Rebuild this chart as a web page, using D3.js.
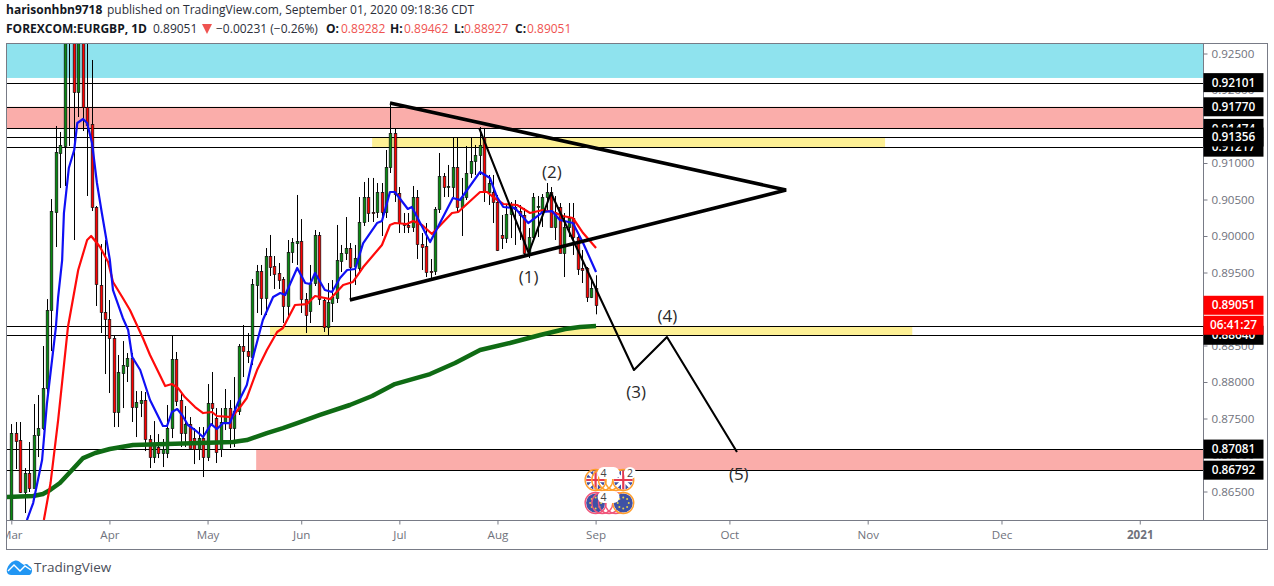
<!DOCTYPE html>
<html><head><meta charset="utf-8">
<script src="https://cdn.jsdelivr.net/npm/d3@7/dist/d3.min.js"></script>
<style>html,body{margin:0;padding:0;background:#fff;overflow:hidden}svg{display:block}text{font-family:"Open Sans",sans-serif}</style>
</head><body><svg id="c" width="1274" height="586"></svg>
<script>
// EUR/GBP daily bars, one entry per trading day from 2 March 2020
const open=[.85972,.87301,.87205,.86493,.86753,.86547,.87273,.87369,.87917,.88986,.90329,.91137,.91233,.92822,.92822,.91973,.92959,.91767,.91534,.90397,.89329,.88959,.88863,.88603,.87589,.88123,.88219,.88329,.87657,.87712,.87753,.87219,.86972,.87109,.87027,.87027,.87369,.88315,.87753,.87301,.87424,.87232,.87082,.87232,.86972,.87712,.87506,.87082,.87452,.87643,.87369,.87602,.88493,.88424,.88342,.89329,.89520,.89150,.89726,.89589,.89493,.89411,.89041,.89781,.89904,.89931,.89136,.88972,.89356,.90014,.89123,.88753,.89082,.89150,.89657,.89767,.89835,.89589,.89561,.90192,.90534,.90329,.90329,.90603,.90329,.90945,.91411,.90589,.90178,.90151,.90123,.90534,.89890,.89863,.89520,.89520,.90370,.90822,.90671,.90671,.90945,.90397,.90534,.90863,.91027,.91110,.91356,.90603,.90603,.90466,.90014,.89972,.90301,.90397,.90342,.90288,.89767,.89986,.90397,.90329,.90534,.90603,.90123,.90397,.89767,.90123,.90247,.89986,.89561,.89561,.89164,.89282];
const high=[.87424,.87452,.87452,.86821,.87178,.87698,.87822,.88493,.89136,.90507,.91507,.91425,.93165,.93233,.93165,.93165,.93165,.92822,.92411,.90411,.89890,.89945,.89123,.88630,.88370,.88561,.88397,.88397,.87876,.87876,.87863,.87273,.87465,.87287,.87219,.87685,.88630,.88411,.87863,.87671,.87520,.87369,.87383,.87383,.87972,.88137,.87643,.87643,.87904,.87753,.88068,.88520,.88781,.88671,.89411,.89603,.89603,.89835,.90014,.89726,.89630,.89438,.89945,.89972,.90562,.90232,.89219,.89603,.90082,.90055,.89150,.89356,.89397,.90151,.89877,.90260,.89904,.89877,.90534,.90740,.90795,.90795,.90726,.90726,.91178,.91795,.91466,.90671,.90315,.90315,.90685,.90630,.90041,.90178,.89685,.90397,.91137,.90863,.90973,.91356,.91356,.90795,.91233,.91356,.91247,.91493,.91480,.90836,.90836,.90562,.90288,.90425,.90466,.90493,.90425,.90384,.90109,.90589,.90548,.90575,.90726,.90671,.90548,.90452,.90315,.90452,.90452,.90041,.89808,.89575,.89425,.89462];
const low=[.85767,.86808,.86479,.86205,.86493,.86547,.86972,.87342,.87753,.88424,.89849,.90657,.90685,.91233,.89945,.91630,.91438,.90548,.90342,.89041,.88671,.88109,.87849,.87383,.87383,.87643,.88000,.87452,.87246,.87520,.87054,.86821,.86890,.86958,.86835,.86958,.87232,.87671,.87109,.87109,.87095,.86876,.86931,.86698,.86917,.87411,.86890,.86972,.87342,.87095,.87109,.87548,.88068,.88260,.88233,.88945,.88917,.88917,.89452,.89274,.89274,.88808,.88890,.89630,.89603,.88945,.88671,.88808,.89315,.89055,.88685,.88644,.88822,.89082,.89507,.89671,.89123,.89329,.89493,.90137,.90192,.90192,.90247,.90000,.90247,.90863,.90466,.90041,.90041,.90041,.90055,.89685,.89534,.89438,.89425,.89466,.90315,.90534,.90534,.90534,.90315,.90000,.90493,.90795,.90836,.90836,.90466,.90425,.90178,.89794,.89822,.89904,.89972,.89877,.89945,.89740,.89698,.89945,.89986,.90123,.90329,.90123,.89945,.89767,.89438,.89986,.89740,.89466,.89356,.89096,.89150,.88927];
const close=[.87301,.87191,.86493,.86753,.86547,.87273,.87369,.87917,.88986,.90342,.91151,.91247,.92959,.93096,.91973,.92959,.91767,.91521,.90397,.89342,.88959,.88863,.88603,.87589,.88137,.88233,.88329,.87657,.87726,.87753,.87219,.86972,.87164,.87027,.87082,.87369,.88315,.87739,.87301,.87424,.87095,.87082,.87232,.86972,.87712,.87643,.87041,.87452,.87643,.87369,.87602,.88493,.88424,.88356,.89342,.89520,.89150,.89726,.89575,.89479,.89397,.89041,.89781,.89918,.89931,.89136,.88917,.89356,.90014,.89136,.88753,.89096,.89164,.89671,.89767,.89835,.89575,.89698,.90192,.90534,.90315,.90315,.90603,.90329,.90945,.91411,.90575,.90178,.90151,.90123,.90534,.89890,.89849,.89507,.89507,.90370,.90822,.90671,.90685,.90945,.90397,.90534,.90863,.91027,.91110,.91247,.90603,.90726,.90466,.89808,.89972,.90301,.90425,.90370,.90288,.89767,.89986,.90534,.90411,.90534,.90603,.90123,.90329,.89767,.90123,.90247,.89986,.89548,.89534,.89164,.89288,.89051];

// moving averages: bar position, then price
const blueBar=[3.5,4.9,6.9,8,10,10.5,11.4,11.8,12.9,14.1,14.8,16.1,17,18.1,19.2,20.3,22.1,22.8,25,26.2,27.1,28.9,31.1,34,34.9,36,37.2,38.3,39.6,41.2,43,44.8,46.1,47.5,49,50.8,52.8,54.2,56.4,58.7,60.3,61.4,64.1,65.9,67,68.1,70.3,71.9,73.7,75.3,77.1,78.9,82,83.1,84.9,86,88.9,89.8,93.9,99,100.6,105.1,107.3,108.9,110.3,112.9,115.9,119.2,121.2,123,125.9,128.2,131.1];
const blueVal=[.86109,.86342,.86931,.87712,.88753,.89164,.89671,.90315,.90931,.91178,.91548,.91603,.91548,.91274,.90726,.90315,.89671,.89260,.88877,.88712,.88342,.88164,.87753,.87397,.87397,.87589,.87630,.87548,.87411,.87342,.87246,.87424,.87356,.87438,.87438,.87712,.87959,.88342,.88849,.89164,.89219,.89192,.89562,.89356,.89342,.89493,.89260,.89233,.89425,.89534,.89548,.89904,.90178,.90205,.90603,.90603,.90370,.90397,.89918,.90521,.90493,.90877,.90795,.90534,.90397,.90384,.90178,.90329,.90342,.90219,.90178,.89904,.89507];
const redBar=[7.3,8.8,10.5,12.7,15,17,17.9,19.9,21.7,22.8,25,26.6,29.5,31.1,34.5,36,37.4,38.9,41.2,43,45,46.1,49.5,51.3,52.8,55.1,57.3,59.6,60.9,63.6,66.3,68.1,69.2,71.5,74.4,76.6,78.9,83.1,84.9,86,88.7,90.1,92.1,94.3,98.8,100.2,105.1,106.7,108,110.3,113.4,116.3,119.2,121.4,123.7,125.9,128.2,131.1];
const redVal=[.86109,.86616,.87479,.88753,.89534,.89945,.90000,.89849,.89644,.89370,.89150,.88986,.88603,.88370,.87945,.87972,.87917,.87794,.87657,.87575,.87589,.87534,.87520,.87657,.87781,.88164,.88438,.88685,.88740,.89055,.89068,.89178,.89164,.89136,.89329,.89370,.89575,.89877,.90151,.90178,.90164,.90205,.90151,.90027,.90315,.90329,.90603,.90603,.90534,.90438,.90425,.90315,.90356,.90329,.90274,.90247,.90041,.89835];
const greenBar=[-1,4.9,7.1,8.7,10.9,13.2,16.1,18.8,22.1,27.3,34.9,42.3,49.7,52.8,57.3,60.9,64.1,69.2,75.9,80.9,86,93.9,99.5,105.1,111.8,118.6,124.2,127.5,131.1];
const greenVal=[.86425,.86438,.86465,.86520,.86616,.86767,.86958,.87027,.87082,.87137,.87151,.87164,.87178,.87205,.87301,.87369,.87438,.87548,.87685,.87808,.87972,.88109,.88260,.88438,.88534,.88644,.88726,.88753,.88767];

// drawn objects
const zoneFrom=[-2,-2,80.9,58,54.9];
const zoneTo=[268,268,195.9,202,268];
const zoneHigh=[.93,.9177,.91356,.88767,.87081];
const zoneLow=[.92165,.91474,.91217,.8864,.86792];
const zoneColors=["#8fe3ee","#faadaa","#fdf095","#fdf095","#faadaa"];
const levels=[.92101,.9177,.91474,.91356,.91217,.88767,.8864,.87081,.86792];
const triBar=[84.9,173.7,75.9];
const triVal=[.91822,.9063,.89123];
const waveBar=[104.9,116,121,139.6,147,162.7];
const waveVal=[.91479,.89767,.90589,.88164,.88616,.87041];
const waveNames=["(1)","(2)","(3)","(4)","(5)"];
const waveNameBar=[116,121.2,140.1,147.1,163.1];
const waveNameVal=[.89356,.90795,.87781,.88822,.86658];

const priceTicks=[.925,.92,.915,.91,.905,.9,.895,.89,.885,.88,.875,.87,.865];
const monthBars=[0,22,44,65,87,109,131,161,192,222,253];
const monthNames=["Mar","Apr","May","Jun","Jul","Aug","Sep","Oct","Nov","Dec","2021"];
const labelPrices=[.92101,.9177,.91474,.91217,.91356,.8864,.87081,.86792];
const lastPrice=.89051, countdown="06:41:27";

const eventBars=[131,132.5,134,135.5,137.2];

const svg=d3.select("#c"), W=1274,H=586;
const L=6.5,R=1203.5,T=43.5,B=520.5,RR=1267.5,BB=549.5;
const x=d3.scaleLinear().domain([0,131]).range([11.3,595.6]);
const y=d3.scaleLinear().domain([.925,.865]).range([53.5,491.5]);
const f5=d3.format(".5f");

const defs=svg.append("defs");
defs.append("clipPath").attr("id","plot").append("rect").attr("x",L).attr("y",T).attr("width",R-L).attr("height",B-T);
defs.append("clipPath").attr("id","flagc").append("circle").attr("r",9.5);
defs.append("clipPath").attr("id","xaxisclip").append("rect").attr("x",L).attr("y",0).attr("width",RR-L).attr("height",BB-B);

const plot=svg.append("g").attr("clip-path","url(#plot)");

// zones
plot.selectAll("rect.z").data(zoneFrom).join("rect").attr("class","z")
 .attr("x",(d,i)=>x(d)).attr("width",(d,i)=>x(zoneTo[i])-x(d))
 .attr("y",(d,i)=>y(zoneHigh[i])).attr("height",(d,i)=>y(zoneLow[i])-y(zoneHigh[i]))
 .attr("fill",(d,i)=>zoneColors[i]);
// horizontal levels
plot.selectAll("line.l").data(levels).join("line").attr("class","l")
 .attr("x1",L).attr("x2",R).attr("y1",d=>Math.round(y(d))+.5).attr("y2",d=>Math.round(y(d))+.5)
 .attr("stroke","#000").attr("stroke-width",1.2);

// candles
const bars=plot.selectAll("g.b").data(d3.range(open.length)).join("g").attr("class","b");
const cx=i=>Math.round(x(i));
bars.append("line").attr("x1",i=>cx(i)+.5).attr("x2",i=>cx(i)+.5)
 .attr("y1",i=>y(high[i])).attr("y2",i=>y(low[i])).attr("stroke","#000").attr("stroke-width",1);
bars.append("rect").attr("x",i=>cx(i)-.8).attr("width",2.6)
 .attr("y",i=>Math.round(y(Math.max(open[i],close[i])))+.5)
 .attr("height",i=>Math.max(1,Math.round(y(Math.min(open[i],close[i])))-Math.round(y(Math.max(open[i],close[i])))))
 .attr("fill",i=>close[i]>=open[i]?"#078a10":"#ff0000").attr("stroke","#111").attr("stroke-width",.7);

// moving averages
const ln=d3.line().x(d=>x(d[0])).y(d=>y(d[1]));
const path=(b,v,c,w)=>plot.append("path").attr("d",ln(b.map((d,i)=>[d,v[i]]))).attr("fill","none").attr("stroke",c).attr("stroke-width",w).attr("stroke-linejoin","round");
path(greenBar,greenVal,"#0f6b14",4.5);
path(redBar,redVal,"#ff0a0a",2.2);
path(blueBar,blueVal,"#0f0ff5",2.2);

// triangle and wave drawings
plot.append("path").attr("d",ln(triBar.map((d,i)=>[d,triVal[i]])))
 .attr("fill","none").attr("stroke","#000").attr("stroke-width",3.6).attr("stroke-linejoin","miter");
path(waveBar,waveVal,"#000",2.1);
svg.selectAll("text.w").data(waveNames).join("text").attr("class","w").text(d=>d)
 .attr("x",(d,i)=>x(waveNameBar[i])).attr("y",(d,i)=>y(waveNameVal[i]))
 .attr("text-anchor","middle").attr("font-size",17).attr("fill","#2a2a2a");

// event markers
const ev=svg.append("g");
const flagRow=(cy,kind)=>{
 eventBars.forEach((b,k)=>{
  const g=ev.append("g").attr("transform",`translate(${x(b)},${cy})`);
  const solid=k===0||k===eventBars.length-1;
  if(solid&&kind==="uk"){
   const f=g.append("g").attr("clip-path","url(#flagc)");
   f.append("circle").attr("r",9.5).attr("fill","#3f51a5");
   f.append("path").attr("d","M-10,-10L10,10M10,-10L-10,10").attr("stroke","#fff").attr("stroke-width",3);
   f.append("path").attr("d","M-10,0H10M0,-10V10").attr("stroke","#fff").attr("stroke-width",4.5);
   f.append("path").attr("d","M-10,0H10M0,-10V10").attr("stroke","#e53950").attr("stroke-width",2.2);
  } else if(solid) {
   g.append("circle").attr("r",9.5).attr("fill","#3f51a5");
   d3.range(8).forEach(a=>g.append("circle").attr("r",1).attr("cx",5.5*Math.cos(a*Math.PI/4)).attr("cy",5.5*Math.sin(a*Math.PI/4)).attr("fill","#e8d04a"));
  }
  g.append("circle").attr("r",10.5).attr("fill","none").attr("stroke",kind==="eu"&&k<4?"#f0557a":"#ff9e2c").attr("stroke-width",1.4);
 });
};
flagRow(480,"uk"); flagRow(503,"eu");
const badge=(b,cy,t,w,dx)=>{
 ev.append("rect").attr("x",x(b)-w/2).attr("y",cy-6).attr("width",w).attr("height",12).attr("rx",6).attr("fill","#fff");
 ev.append("text").attr("x",x(b)+dx).attr("y",cy+4).attr("font-size",10.5).attr("text-anchor","middle").attr("fill","#444").text(t);
};
badge(133.9,473,"4",22,-5); badge(138.7,473,"2",12,0); badge(133.9,497,"4",22,-5);

// frame
const fc="#787b86";
svg.append("rect").attr("x",L).attr("y",T).attr("width",RR-L).attr("height",BB-T).attr("fill","none").attr("stroke",fc);
svg.append("line").attr("x1",R).attr("x2",R).attr("y1",T).attr("y2",B).attr("stroke",fc);
svg.append("line").attr("x1",L).attr("x2",RR).attr("y1",B).attr("y2",B).attr("stroke",fc);

// price axis
const ya=svg.append("g").attr("transform",`translate(${R},0)`)
 .call(d3.axisRight(y).tickValues(priceTicks).tickFormat(f5).tickSize(4).tickPadding(4));
ya.select(".domain").remove();
ya.selectAll("line").attr("stroke",fc);
ya.selectAll("text").attr("font-size",11.6).attr("fill","#6f727c").attr("font-family",'"Open Sans",sans-serif');

// time axis
const xa=svg.append("g").attr("transform",`translate(0,${B})`).attr("clip-path","url(#xaxisclip)")
 .call(d3.axisBottom(x).tickValues(monthBars).tickFormat((d,i)=>monthNames[i]).tickSize(4).tickPadding(6));
xa.select(".domain").remove();
xa.selectAll("line").attr("stroke",fc);
xa.selectAll("text").attr("font-size",11.6).attr("fill","#6f727c").attr("font-family",'"Open Sans",sans-serif')
 .attr("font-weight",(d,i)=>monthNames[i]==="2021"?700:400);

// price labels
const tag=(t,bg,yy)=>{
 svg.append("rect").attr("x",R).attr("y",yy-9.5).attr("width",60).attr("height",19).attr("fill",bg);
 svg.append("text").attr("x",R+30).attr("y",yy+4.2).attr("text-anchor","middle").attr("font-size",11.8)
  .attr("font-weight",600).attr("fill","#fff").text(t);
};
labelPrices.forEach(p=>tag(f5(p),"#000",y(p)));
tag(f5(lastPrice),"#ff0000",y(lastPrice));
tag(countdown,"#ff0000",y(lastPrice)+20);

// header
const dark="#131722", red="#ef5350";
const head=[
 [6,14,"harisonhbn9718",700,dark],
 [107,14,"published on TradingView.com, September 01, 2020 09:18:36 CDT",400,"#2a2e39"],
 [6,33,"FOREXCOM:EURGBP, 1D",700,dark],
 [153,33,"0.89051",400,"#2a2e39"],
 [216,33,"\u22120.00231 (\u22120.26%)",400,"#2a2e39"],
 [326,33,"O:",700,dark],[341,33,"0.89282",400,red],
 [390,33,"H:",700,dark],[404,33,"0.89462",400,red],
 [454,33,"L:",700,dark],[464,33,"0.88927",400,red],
 [515,33,"C:",700,dark],[527,33,"0.89051",400,red]];
head.forEach(h=>svg.append("text").attr("x",h[0]).attr("y",h[1]).attr("font-size",12).attr("font-weight",h[3]).attr("fill",h[4]).text(h[2]));
svg.append("path").attr("d",d3.line()([[202,24],[212,24],[207,34]])+"Z").attr("fill",red);

// logo
const logo=svg.append("g");
logo.append("path").attr("d","M7,569 C8,565 11,562 14,561 C17,560 19,561 21,563 L24,565 C26,563 28,564 29,566 C32,567 33,571 31,574 C30,575 29,575 28,575 L11,575 C8,575 6,572 7,569Z").attr("fill","#2196f3");
logo.append("path").attr("d","M8,571 L14,565 L20,571 L25,566 L31,570").attr("fill","none").attr("stroke","#fff").attr("stroke-width",1.4);
logo.append("text").attr("x",34).attr("y",572).attr("font-size",13.5).attr("fill","#4a4e59").text("TradingView");
</script></body></html>
